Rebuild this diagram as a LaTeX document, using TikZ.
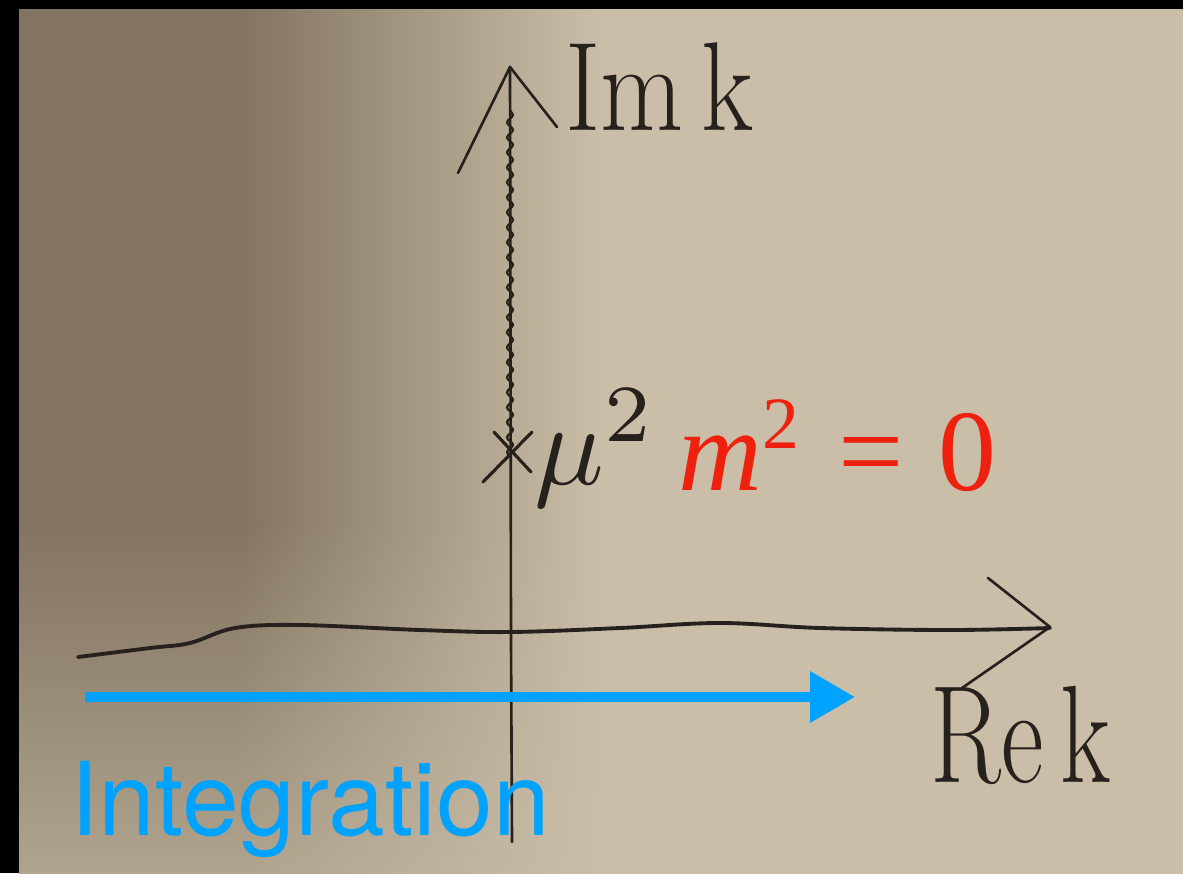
\documentclass[tikz,border=0pt]{standalone}
\usepackage{fontspec}
\usetikzlibrary{arrows.meta,decorations.pathmorphing,fadings}
\newfontfamily\helvfont{TeX Gyre Heros}
\newfontfamily\timesfont{Liberation Serif}

\definecolor{paperdark}{RGB}{130,116,96}
\definecolor{paperlight}{RGB}{202,190,168}
\definecolor{pencil}{RGB}{38,33,28}
\definecolor{overblue}{RGB}{0,162,255}
\definecolor{overred}{RGB}{238,32,14}

\tikzset{
  pen/.style={draw=pencil, line width=1.5pt, line cap=round, line join=round},
  handtext/.style={pencil, anchor=base west, inner sep=0pt}
}

\begin{document}
\begin{tikzpicture}[x=0.02cm, y=-0.02cm]

  \useasboundingbox (0,0) rectangle (1183,873);
  \clip (0,0) rectangle (1183,873);

  % photo frame and paper
  \fill[black] (0,0) rectangle (1183,873);
  \fill[paperlight] (19,9) rectangle (1190,880);
  \fill[paperdark] (19,9) rectangle (240,880);
  \shade[left color=paperdark, right color=paperlight] (239,9) rectangle (600,880);
  \fill[paperlight, path fading=north, opacity=0.7] (19,520) rectangle (600,900);

  % imaginary axis with the cut on it
  \draw[pen] (512,842) -- (511,640) -- (510,67);
  \draw[pen] (458,173) -- (510,67) -- (557,127);
  \draw[pen, line width=1.3pt, decorate,
        decoration={snake, amplitude=0.06cm, segment length=0.3cm}]
    (510,457) -- (510,110);
  \node[handtext, font=\fontsize{72}{72}\selectfont, xscale=0.85] (imk) at (565,130) {Im\,k};

  % the pole
  \draw[pen, line width=1.8pt] (483,482) -- (532,432);
  \draw[pen, line width=1.8pt] (494,432) -- (531,472);
  \node[handtext] (mu) at (534,484) {\scalebox{6.6}{$\mu^2$}};
  \node[overred, anchor=base west, inner sep=0pt, font=\timesfont\fontsize{66}{66}\selectfont]
    (mass) at (678,490)
    {\textit{m}\raisebox{0.84cm}{\fontsize{42}{42}\selectfont 2}\hspace{0.8cm}=\hspace{0.68cm}0};

  % real axis
  \draw[pen, line width=2.2pt] plot[smooth, tension=0.6] coordinates
    {(78,657) (150,648) (190,643) (235,628) (300,625) (420,630) (510,632)
     (620,628) (720,623) (820,628) (950,630) (1050,628)};
  \draw[pen] (988,578) -- (1050,627) -- (962,688);
  \node[handtext, font=\fontsize{79}{79}\selectfont, xscale=0.75] (rek) at (930,782) {Re\,k};

  % integration path
  \coordinate (pathstart) at (85,697);
  \coordinate (pathend) at (855,697);
  \draw[overblue, line width=5.7pt, -{Triangle[length=0.9cm, width=0.98cm]}]
    (pathstart) -- (pathend);
  \node[overblue, anchor=base west, inner sep=0pt, font=\helvfont\fontsize{58}{58}\selectfont]
    (integ) at (70,835) {Integration};

\end{tikzpicture}
\end{document}
